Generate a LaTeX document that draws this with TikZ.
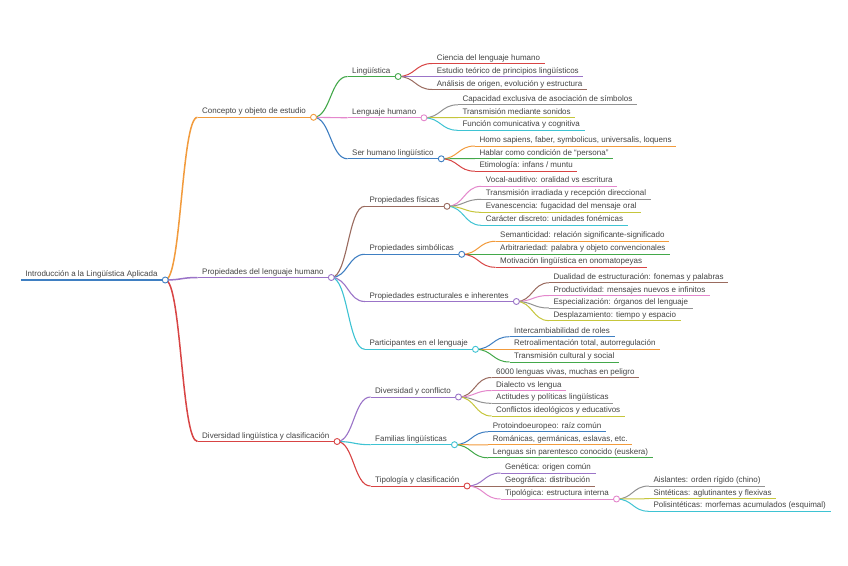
\documentclass[tikz,border=0pt]{standalone}
\usepackage{fontspec}
\setmainfont{Liberation Sans}
\usetikzlibrary{calc,backgrounds}
\definecolor{cblue}{HTML}{3F7FC2}
\definecolor{corange}{HTML}{F29B3C}
\definecolor{cgreen}{HTML}{43A84A}
\definecolor{cred}{HTML}{D84444}
\definecolor{cpurple}{HTML}{9B74C8}
\definecolor{cbrown}{HTML}{9A6B5F}
\definecolor{cpink}{HTML}{E487CC}
\definecolor{cgray}{HTML}{929292}
\definecolor{colive}{HTML}{C6C63C}
\definecolor{ccyan}{HTML}{3EC3D3}
\definecolor{txt}{HTML}{444444}
\tikzset{
  lab/.style={anchor=south west, inner xsep=4.5pt, inner ysep=1.5pt, text height=6pt, text depth=1.8pt,
    font=\fontsize{8}{9}\selectfont, text=txt},
  dot/.style={circle, draw=#1, fill=white, minimum size=6pt, inner sep=0pt, line width=0.9pt},
}
\newcommand\mmnode[6]{%
  \node[lab] (#1) at (#3,#4) {#6};
  \draw[#2, line width=#5] (#1.south west) -- (#1.south east);}
\newcommand\mmdot[2]{%
  \node[dot=#2] (#1-c) at ($(#1.south east)+(3,0)$) {};}
\newcommand\mmlink[4]{%
  \draw[#1, line width=#2] let \p1=(#3-c.center), \p2=(#4.south west) in
    (\p1) .. controls ({(\x1+\x2)/2},\y1) and ({(\x1+\x2)/2},\y2) .. (\p2);}
\begin{document}
\begin{tikzpicture}[x=1pt,y=-1pt]
\useasboundingbox (0,0) rectangle (848,565);
\begin{scope}[on background layer]
\fill[white] (0,0) rectangle (848,565);
\end{scope}
% root
\mmnode{root}{cblue}{20.8}{280}{2.5pt}{Introducción a la Lingüística Aplicada}
% level 1
\mmnode{con}{corange}{197.5}{117.3}{1.5pt}{Concepto y objeto de estudio}
\mmnode{pro}{cpurple}{197.5}{277.5}{1.5pt}{Propiedades del lenguaje humano}
\mmnode{div}{cred}{197.5}{441.5}{1.5pt}{Diversidad lingüística y clasificación}
% level 2 under concepto
\mmnode{ling}{cgreen}{347.5}{76.5}{1pt}{Lingüística}
\mmnode{lh}{cpink}{347.5}{117.8}{1pt}{Lenguaje humano}
\mmnode{sh}{cblue}{347.5}{158.8}{1pt}{Ser humano lingüístico}
\mmnode{l1}{cred}{432.2}{63.5}{1pt}{Ciencia del lenguaje humano}
\mmnode{l2}{cpurple}{432.2}{76.5}{1pt}{Estudio teórico de principios lingüísticos}
\mmnode{l3}{cbrown}{432.2}{89.5}{1pt}{Análisis de origen, evolución y estructura}
\mmnode{h1}{cgray}{457.8}{104.8}{1pt}{Capacidad exclusiva de asociación de símbolos}
\mmnode{h2}{colive}{457.8}{117.5}{1pt}{Transmisión mediante sonidos}
\mmnode{h3}{ccyan}{457.8}{130.3}{1pt}{Función comunicativa y cognitiva}
\mmnode{s1}{corange}{474.8}{146}{1pt}{Homo sapiens, faber, symbolicus, universalis, loquens}
\mmnode{s2}{cgreen}{474.8}{158.6}{1pt}{Hablar como condición de “persona”}
\mmnode{s3}{cred}{474.8}{171.2}{1pt}{Etimología: infans / muntu}
% level 2 under propiedades
\mmnode{fis}{cbrown}{364.8}{206.3}{1pt}{Propiedades físicas}
\mmnode{sim}{cblue}{364.8}{254.3}{1pt}{Propiedades simbólicas}
\mmnode{est}{cpurple}{364.8}{301.5}{1pt}{Propiedades estructurales e inherentes}
\mmnode{par}{ccyan}{364.8}{349.3}{1pt}{Participantes en el lenguaje}
\mmnode{f1}{cpink}{481.2}{186.3}{1pt}{Vocal-auditivo: oralidad vs escritura}
\mmnode{f2}{cgray}{481.2}{199.3}{1pt}{Transmisión irradiada y recepción direccional}
\mmnode{f3}{colive}{481.2}{212.3}{1pt}{Evanescencia: fugacidad del mensaje oral}
\mmnode{f4}{ccyan}{481.2}{225.3}{1pt}{Carácter discreto: unidades fonémicas}
\mmnode{y1}{corange}{495.5}{241.3}{1pt}{Semanticidad: relación significante-significado}
\mmnode{y2}{cgreen}{495.5}{254.3}{1pt}{Arbitrariedad: palabra y objeto convencionales}
\mmnode{y3}{cred}{495.5}{267.3}{1pt}{Motivación lingüística en onomatopeyas}
\mmnode{e1}{cbrown}{548.8}{282.8}{1pt}{Dualidad de estructuración: fonemas y palabras}
\mmnode{e2}{cpink}{548.8}{295.5}{1pt}{Productividad: mensajes nuevos e infinitos}
\mmnode{e3}{cgray}{548.8}{308}{1pt}{Especialización: órganos del lenguaje}
\mmnode{e4}{colive}{548.8}{320.6}{1pt}{Desplazamiento: tiempo y espacio}
\mmnode{p1}{cblue}{509.5}{336.7}{1pt}{Intercambiabilidad de roles}
\mmnode{p2}{corange}{509.5}{349.3}{1pt}{Retroalimentación total, autorregulación}
\mmnode{p3}{cgreen}{509.5}{362}{1pt}{Transmisión cultural y social}
% level 2 under diversidad
\mmnode{dc}{cpurple}{370.5}{397}{1pt}{Diversidad y conflicto}
\mmnode{fam}{ccyan}{370.5}{444.7}{1pt}{Familias lingüísticas}
\mmnode{tip}{cred}{370.5}{486}{1pt}{Tipología y clasificación}
\mmnode{d1}{cbrown}{491.5}{377.5}{1pt}{6000 lenguas vivas, muchas en peligro}
\mmnode{d2}{cpink}{491.5}{390.5}{1pt}{Dialecto vs lengua}
\mmnode{d3}{cgray}{491.5}{403.3}{1pt}{Actitudes y políticas lingüísticas}
\mmnode{d4}{colive}{491.5}{416}{1pt}{Conflictos ideológicos y educativos}
\mmnode{m1}{cblue}{488.2}{431.8}{1pt}{Protoindoeuropeo: raíz común}
\mmnode{m2}{corange}{488.2}{444.8}{1pt}{Románicas, germánicas, eslavas, etc.}
\mmnode{m3}{cgreen}{488.2}{457.8}{1pt}{Lenguas sin parentesco conocido (euskera)}
\mmnode{t1}{cpurple}{500.5}{473}{1pt}{Genética: origen común}
\mmnode{t2}{cbrown}{500.5}{486}{1pt}{Geográfica: distribución}
\mmnode{t3}{cpink}{500.5}{499}{1pt}{Tipológica: estructura interna}
\mmnode{a1}{cgray}{648.8}{486}{1pt}{Aislantes: orden rígido (chino)}
\mmnode{a2}{colive}{648.8}{498.7}{1pt}{Sintéticas: aglutinantes y flexivas}
\mmnode{a3}{ccyan}{648.8}{511.3}{1pt}{Polisintéticas: morfemas acumulados (esquimal)}
% circles
\mmdot{root}{cblue}
\mmdot{con}{corange}
\mmdot{pro}{cpurple}
\mmdot{div}{cred}
\mmdot{ling}{cgreen}
\mmdot{lh}{cpink}
\mmdot{sh}{cblue}
\mmdot{fis}{cbrown}
\mmdot{sim}{cblue}
\mmdot{est}{cpurple}
\mmdot{par}{ccyan}
\mmdot{dc}{cpurple}
\mmdot{fam}{ccyan}
\mmdot{tip}{cred}
\mmdot{t3}{cpink}
% connectors
\begin{scope}[on background layer]
\mmlink{corange}{1.5pt}{root}{con}
\mmlink{cpurple}{1.5pt}{root}{pro}
\mmlink{cred}{1.5pt}{root}{div}
\mmlink{cgreen}{1.1pt}{con}{ling}
\mmlink{cpink}{1.1pt}{con}{lh}
\mmlink{cblue}{1.1pt}{con}{sh}
\mmlink{cred}{1pt}{ling}{l1}
\mmlink{cpurple}{1pt}{ling}{l2}
\mmlink{cbrown}{1pt}{ling}{l3}
\mmlink{cgray}{1pt}{lh}{h1}
\mmlink{colive}{1pt}{lh}{h2}
\mmlink{ccyan}{1pt}{lh}{h3}
\mmlink{corange}{1pt}{sh}{s1}
\mmlink{cgreen}{1pt}{sh}{s2}
\mmlink{cred}{1pt}{sh}{s3}
\mmlink{cbrown}{1.1pt}{pro}{fis}
\mmlink{cblue}{1.1pt}{pro}{sim}
\mmlink{cpurple}{1.1pt}{pro}{est}
\mmlink{ccyan}{1.1pt}{pro}{par}
\mmlink{cpink}{1pt}{fis}{f1}
\mmlink{cgray}{1pt}{fis}{f2}
\mmlink{colive}{1pt}{fis}{f3}
\mmlink{ccyan}{1pt}{fis}{f4}
\mmlink{corange}{1pt}{sim}{y1}
\mmlink{cgreen}{1pt}{sim}{y2}
\mmlink{cred}{1pt}{sim}{y3}
\mmlink{cbrown}{1pt}{est}{e1}
\mmlink{cpink}{1pt}{est}{e2}
\mmlink{cgray}{1pt}{est}{e3}
\mmlink{colive}{1pt}{est}{e4}
\mmlink{cblue}{1pt}{par}{p1}
\mmlink{corange}{1pt}{par}{p2}
\mmlink{cgreen}{1pt}{par}{p3}
\mmlink{cpurple}{1.1pt}{div}{dc}
\mmlink{ccyan}{1.1pt}{div}{fam}
\mmlink{cred}{1.1pt}{div}{tip}
\mmlink{cbrown}{1pt}{dc}{d1}
\mmlink{cpink}{1pt}{dc}{d2}
\mmlink{cgray}{1pt}{dc}{d3}
\mmlink{colive}{1pt}{dc}{d4}
\mmlink{cblue}{1pt}{fam}{m1}
\mmlink{corange}{1pt}{fam}{m2}
\mmlink{cgreen}{1pt}{fam}{m3}
\mmlink{cpurple}{1pt}{tip}{t1}
\mmlink{cbrown}{1pt}{tip}{t2}
\mmlink{cpink}{1pt}{tip}{t3}
\mmlink{cgray}{1pt}{t3}{a1}
\mmlink{colive}{1pt}{t3}{a2}
\mmlink{ccyan}{1pt}{t3}{a3}
\end{scope}
\end{tikzpicture}
\end{document}
